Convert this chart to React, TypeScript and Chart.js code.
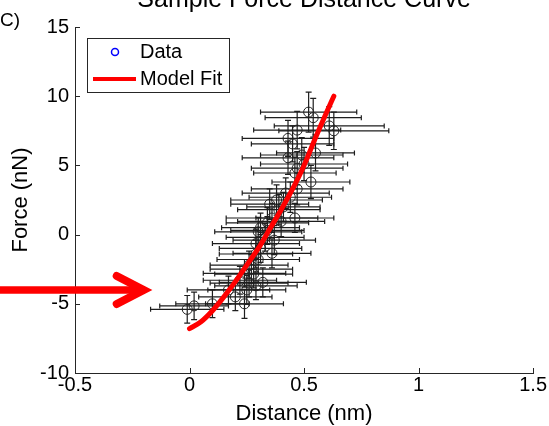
import React, { useEffect, useRef } from "react";
import { Chart, registerables } from "chart.js";

Chart.register(...registerables);

const FONT = "Arial, 'Liberation Sans', Helvetica, sans-serif";

// Measured data points (distance in nm, force in nN) with their errors
const distance = [
  0.52, 0.54, 0.47, 0.61, 0.63, 0.43, 0.45, 0.55, 0.43, 0.49,
  0.5, 0.47, 0.46, 0.53, 0.47, 0.44, 0.42, 0.38, 0.35, 0.39,
  0.41, 0.4, 0.46, 0.34, 0.36, 0.31, 0.3, 0.34, 0.37, 0.33,
  0.29, 0.31, 0.36, 0.29, 0.3, 0.26, 0.27, 0.28, 0.24, 0.32,
  0.29, 0.26, 0.22, 0.25, 0.17, 0.2, 0.24, 0.1, 0.02, -0.01,
];
const force = [
  8.85, 8.45, 7.55, 7.85, 7.5, 6.95, 6.55, 5.9, 5.55, 5.75,
  5.1, 4.8, 4.45, 3.8, 3.3, 2.7, 3.0, 2.5, 2.2, 1.8,
  2.0, 0.95, 1.2, 0.85, 1.2, 0.5, 0.2, 0.3, -0.4, -0.2,
  -0.65, -1.0, -1.35, -1.4, -1.8, -2.2, -2.5, -2.85, -2.8, -3.45,
  -3.7, -3.5, -3.3, -4.0, -4.0, -4.5, -5.0, -5.0, -5.15, -5.4,
];
const distanceErr = [
  0.21, 0.21, 0.19, 0.24, 0.24, 0.2, 0.18, 0.17, 0.2, 0.18,
  0.19, 0.2, 0.18, 0.17, 0.2, 0.18, 0.19, 0.2, 0.17, 0.18,
  0.16, 0.19, 0.17, 0.18, 0.2, 0.17, 0.19, 0.16, 0.18, 0.17,
  0.19, 0.18, 0.17, 0.16, 0.18, 0.17, 0.18, 0.17, 0.18, 0.19,
  0.18, 0.17, 0.16, 0.17, 0.18, 0.16, 0.17, 0.16, 0.15, 0.16,
];
const forceErr = [
  1.45, 1.4, 1.35, 1.4, 1.35, 1.3, 1.3, 1.3, 1.2, 1.25,
  1.2, 1.2, 1.15, 1.2, 1.15, 1.1, 1.1, 1.1, 1.1, 1.1,
  1.05, 1.1, 1.05, 1.1, 1.05, 1.05, 1.05, 1.0, 1.05, 1.0,
  1.05, 1.0, 1.05, 1.0, 1.0, 1.0, 1.05, 1.0, 1.0, 1.05,
  1.0, 1.0, 1.0, 1.05, 1.0, 1.0, 1.05, 1.0, 1.0, 1.0,
];

// Model fit curve
const fitDistance = [0, 0.05, 0.1, 0.15, 0.2, 0.25, 0.3, 0.35, 0.4, 0.45, 0.5, 0.55, 0.6, 0.63];
const fitForce = [-6.8, -6.3, -5.5, -4.5, -3.4, -2.2, -1.0, 0.4, 1.8, 3.3, 5.0, 7.0, 8.9, 10.0];

// Axis ticks
const xTicks = [-0.5, 0, 0.5, 1, 1.5];
const yTicks = [-10, -5, 0, 5, 10, 15];

// Annotation arrow (points at a value on the force axis)
const arrowPoint = { x: -0.2, y: -4.0 };

const AXIS_COLOR = "#262626";

const errorBarsPlugin = {
  id: "errorBars",
  beforeDatasetsDraw(chart: any) {
    const { ctx, scales } = chart;
    const xs = scales.x;
    const ys = scales.y;
    ctx.save();
    ctx.strokeStyle = "#1e1e1e";
    ctx.lineWidth = 1.2;
    for (let i = 0; i < distance.length; i++) {
      const px = xs.getPixelForValue(distance[i]);
      const py = ys.getPixelForValue(force[i]);
      const x0 = xs.getPixelForValue(distance[i] - distanceErr[i]);
      const x1 = xs.getPixelForValue(distance[i] + distanceErr[i]);
      const y0 = ys.getPixelForValue(force[i] - forceErr[i]);
      const y1 = ys.getPixelForValue(force[i] + forceErr[i]);
      ctx.beginPath();
      ctx.moveTo(x0, py);
      ctx.lineTo(x1, py);
      ctx.moveTo(x0, py - 2.5);
      ctx.lineTo(x0, py + 2.5);
      ctx.moveTo(x1, py - 2.5);
      ctx.lineTo(x1, py + 2.5);
      ctx.moveTo(px, y0);
      ctx.lineTo(px, y1);
      ctx.moveTo(px - 3, y0);
      ctx.lineTo(px + 3, y0);
      ctx.moveTo(px - 3, y1);
      ctx.lineTo(px + 3, y1);
      ctx.stroke();
    }
    ctx.restore();
  },
};

const decorPlugin = {
  id: "decor",
  afterDatasetsDraw(chart: any) {
    const { ctx, chartArea } = chart;
    const l = chartArea.left;
    const t = chartArea.top;
    ctx.save();
    // legend box
    ctx.fillStyle = "#ffffff";
    ctx.fillRect(l + 12, t + 11, 142, 54);
    ctx.strokeStyle = AXIS_COLOR;
    ctx.lineWidth = 1;
    ctx.strokeRect(l + 12.5, t + 11.5, 142, 54);
    // Data marker
    ctx.strokeStyle = "#0000ff";
    ctx.lineWidth = 1.5;
    ctx.beginPath();
    ctx.arc(l + 40, t + 25, 3.5, 0, Math.PI * 2);
    ctx.stroke();
    // Model Fit line
    ctx.strokeStyle = "#ff0000";
    ctx.lineWidth = 4;
    ctx.beginPath();
    ctx.moveTo(l + 18, t + 52);
    ctx.lineTo(l + 61, t + 52);
    ctx.stroke();
    ctx.fillStyle = "#000000";
    ctx.font = `20px ${FONT}`;
    ctx.textAlign = "left";
    ctx.textBaseline = "middle";
    ctx.fillText("Data", l + 65, t + 25);
    ctx.fillText("Model Fit", l + 65, t + 52);
    ctx.restore();
  },
  afterDraw(chart: any) {
    const { ctx, chartArea, scales } = chart;
    const xs = scales.x;
    const ys = scales.y;
    ctx.save();
    // inward tick marks
    ctx.strokeStyle = AXIS_COLOR;
    ctx.lineWidth = 1;
    ctx.beginPath();
    for (const v of xTicks) {
      const px = Math.round(xs.getPixelForValue(v)) + 0.5;
      ctx.moveTo(px, chartArea.bottom);
      ctx.lineTo(px, chartArea.bottom - 5);
    }
    for (const v of yTicks) {
      const py = Math.round(ys.getPixelForValue(v)) + 0.5;
      ctx.moveTo(chartArea.left, py);
      ctx.lineTo(chartArea.left + 5, py);
    }
    ctx.stroke();
    // title (partly outside the canvas, as in the source)
    ctx.fillStyle = "#000000";
    ctx.font = `25px ${FONT}`;
    ctx.textAlign = "center";
    ctx.textBaseline = "alphabetic";
    ctx.fillText("Sample Force Distance Curve", (chartArea.left + chartArea.right) / 2, 7);
    // panel label
    ctx.font = `19px ${FONT}`;
    ctx.textAlign = "left";
    ctx.fillText("C)", 0, 26);
    // red arrow
    const ax = xs.getPixelForValue(arrowPoint.x);
    const ay = ys.getPixelForValue(arrowPoint.y);
    ctx.strokeStyle = "#ff0000";
    ctx.lineWidth = 7.5;
    ctx.lineCap = "butt";
    ctx.beginPath();
    ctx.moveTo(0, ay);
    ctx.lineTo(ax - 2, ay);
    ctx.stroke();
    ctx.lineWidth = 8;
    ctx.lineCap = "round";
    ctx.lineJoin = "miter";
    ctx.beginPath();
    ctx.moveTo(ax - 27, ay - 14);
    ctx.lineTo(ax, ay);
    ctx.lineTo(ax - 27, ay + 14);
    ctx.stroke();
    ctx.restore();
  },
};

export default function App() {
  const canvasRef = useRef<HTMLCanvasElement | null>(null);

  useEffect(() => {
    const canvas = canvasRef.current;
    if (!canvas) return;
    const chart = new Chart(canvas, {
      type: "scatter",
      data: {
        datasets: [
          {
            label: "Model Fit",
            data: fitDistance.map((x, i) => ({ x, y: fitForce[i] })),
            showLine: true,
            borderColor: "#ff0000",
            backgroundColor: "#ff0000",
            borderWidth: 5,
            borderCapStyle: "round",
            pointRadius: 0,
            tension: 0.4,
            cubicInterpolationMode: "monotone",
            fill: false,
            order: 0,
          } as any,
          {
            label: "Data",
            data: distance.map((x, i) => ({ x, y: force[i] })),
            showLine: false,
            pointStyle: "circle",
            pointRadius: 5,
            borderColor: "#222222",
            backgroundColor: "rgba(0,0,0,0)",
            borderWidth: 1,
            order: 1,
          } as any,
        ],
      },
      options: {
        responsive: false,
        animation: false,
        devicePixelRatio: 1,
        layout: { padding: { top: 27, right: 14, left: 0, bottom: 0 } },
        plugins: {
          legend: { display: false },
          tooltip: { enabled: false },
          title: { display: false },
        },
        scales: {
          x: {
            type: "linear",
            min: -0.5,
            max: 1.5,
            afterBuildTicks: (s: any) => {
              s.ticks = xTicks.map((v) => ({ value: v }));
            },
            afterFit: (s: any) => {
              s.height = 53;
            },
            grid: { display: true, drawOnChartArea: false, drawTicks: false, color: "rgba(0,0,0,0)" },
            border: { display: true, color: AXIS_COLOR, width: 1 },
            ticks: {
              color: "#000",
              font: { family: FONT, size: 20, lineHeight: 1 },
              padding: 2,
              maxRotation: 0,
              autoSkip: false,
              callback: (v: any) => String(v),
            },
            title: {
              display: true,
              text: "Distance (nm)",
              color: "#000",
              font: { family: FONT, size: 22, lineHeight: 1 },
              padding: { top: 0, bottom: 1 },
            },
          },
          y: {
            type: "linear",
            min: -10,
            max: 15,
            afterBuildTicks: (s: any) => {
              s.ticks = yTicks.map((v) => ({ value: v }));
            },
            afterFit: (s: any) => {
              s.width = 75;
            },
            grid: { display: true, drawOnChartArea: false, drawTicks: false, color: "rgba(0,0,0,0)" },
            border: { display: true, color: AXIS_COLOR, width: 1 },
            ticks: {
              color: "#000",
              font: { family: FONT, size: 20, lineHeight: 1 },
              padding: 6,
              autoSkip: false,
              callback: (v: any) => String(v),
            },
            title: {
              display: true,
              text: "Force (nN)",
              color: "#000",
              font: { family: FONT, size: 22, lineHeight: 1 },
              padding: { top: 10, bottom: 0 },
            },
          },
        },
      } as any,
      plugins: [errorBarsPlugin, decorPlugin],
    });
    return () => chart.destroy();
  }, []);

  return (
    <div style={{ position: "fixed", left: 0, top: 0, width: 549, height: 426, background: "#fff" }}>
      <canvas ref={canvasRef} width={549} height={426} style={{ width: 549, height: 426, display: "block" }} />
    </div>
  );
}
